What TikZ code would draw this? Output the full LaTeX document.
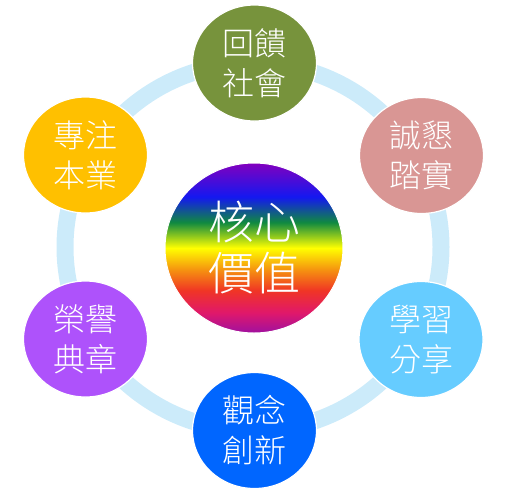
\documentclass[tikz,border=0pt]{standalone}
\usepackage{fontspec}
\newfontfamily\cjk{Noto Sans CJK TC Light}
\usetikzlibrary{shapes.geometric}
\definecolor{ringblue}{HTML}{CCEBFA}
\definecolor{cgreen}{HTML}{77933C}
\definecolor{cpink}{HTML}{D99694}
\definecolor{csky}{HTML}{66CCFF}
\definecolor{cblue}{HTML}{0066FF}
\definecolor{cpurple}{HTML}{AE52FB}
\definecolor{cgold}{HTML}{FFC000}
\definecolor{rb0}{HTML}{8200BE}
\definecolor{rb1}{HTML}{1418F0}
\definecolor{rb2}{HTML}{108A40}
\definecolor{rb3}{HTML}{FFFF00}
\definecolor{rb4}{HTML}{F59010}
\definecolor{rb5}{HTML}{F03525}
\definecolor{rb6}{HTML}{E0186A}
\definecolor{rb7}{HTML}{A010A0}
\pgfdeclareverticalshading{rainbowc}{100bp}{color(0bp)=(rb7); color(25bp)=(rb7); color(31bp)=(rb6); color(37.5bp)=(rb5); color(43.5bp)=(rb4); color(50bp)=(rb3); color(57.5bp)=(rb2); color(65bp)=(rb1); color(75bp)=(rb0); color(100bp)=(rb0)}
\tikzset{
  value/.style={ellipse, draw=white, line width=1.2pt, minimum width=124pt, minimum height=116pt, inner sep=0pt,
    text=white, align=center, font=\cjk\fontsize{32}{40}\selectfont},
  core/.style={ellipse, draw=white, line width=1pt, minimum width=178pt, minimum height=170pt, inner sep=0pt,
    shading=rainbowc, text=white, align=center, font=\cjk\fontsize{46}{51}\selectfont},
  ring/.style={draw=ringblue, line width=17pt}
}
\begin{document}
\begin{tikzpicture}[x=1pt,y=-1pt]
\useasboundingbox (0,0) rectangle (508,491);
\coordinate (rc) at (253,247);
\draw[ring] (rc) ellipse [x radius=188, y radius=184];
\node[core] (core) at (254,248) {核心\\價值};
\node[value, fill=cgreen] (top) at (254.5,63) {回饋\\社會};
\node[value, fill=cpink] (ur) at (421.5,155.5) {誠懇\\踏實};
\node[value, fill=csky] (lr) at (421,339.5) {學習\\分享};
\node[value, fill=cblue] (bot) at (254.5,430.5) {觀念\\創新};
\node[value, fill=cpurple] (ll) at (85.5,339) {榮譽\\典章};
\node[value, fill=cgold] (ul) at (85.5,155) {專注\\本業};
\end{tikzpicture}
\end{document}
